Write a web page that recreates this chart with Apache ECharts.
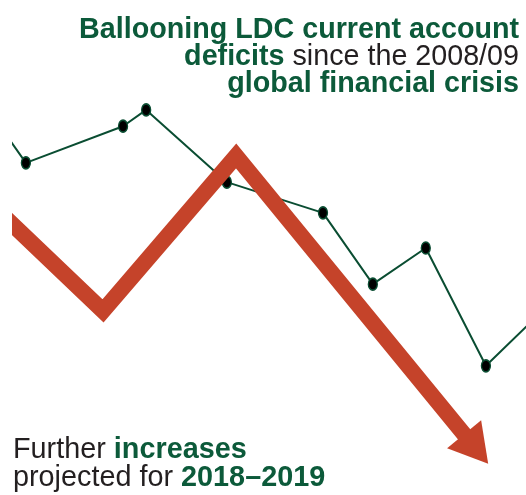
<!DOCTYPE html>
<html>
<head>
<meta charset="utf-8">
<script src="https://cdn.jsdelivr.net/npm/echarts@6/dist/echarts.min.js"></script>
<style>html,body{margin:0;padding:0;background:#fff}#c{width:526px;height:495px}</style>
</head>
<body>
<div id="c"></div>
<script>
// Current account deficit index (arbitrary units), position along time scale
const deficitX = [-2.3, 2.7, 21.6, 26.1, 41.8, 60.5, 70.2, 80.5, 92.2, 102.7];
const deficitY = [74.5, 67.1, 74.5, 77.8, 63.2, 57.0, 42.6, 49.9, 26.1, 36.7];
// Trend arrow (stylised)
const arrowX = [-4.3, 17.7, 43.6, 90.3];
const arrowY = [59.0, 37.2, 68.5, 9.3];
const titleLine1 = 'Ballooning LDC current account';
const titleLine2Bold = 'deficits';
const titleLine2 = ' since the 2008/09';
const titleLine3 = 'global financial crisis';
const footLines = ['Further ', 'increases', 'projected for ', '2018–2019'];

const GREEN = '#0c5a3a';
const LINE = '#0a4d32';
const RED = '#c5432a';
const DARK = '#231f20';
const FONT = '"Liberation Sans", Arial, Helvetica, sans-serif';

const greenData = deficitX.map((x, i) => {
  const it = { value: [x, deficitY[i]] };
  if (i === 0 || i === deficitX.length - 1) it.symbol = 'none';
  return it;
});
const redData = arrowX.map((x, i) => {
  const it = { value: [x, arrowY[i]] };
  if (i < arrowX.length - 1) it.symbol = 'none';
  return it;
});

const richT = (size, lh) => ({
  b: { fontFamily: FONT, fontSize: size, fontWeight: 'bold', fill: GREEN, color: GREEN, lineHeight: lh },
  n: { fontFamily: FONT, fontSize: size, fontWeight: 'normal', fill: DARK, color: DARK, lineHeight: lh }
});
const titleText = (txt, top) => ({
  type: 'text', right: 7, top: top, z: 10,
  style: { text: txt, align: 'right', font: '28.7px ' + FONT, rich: richT(28.7, 28) }
});
const footText = (txt, top) => ({
  type: 'text', left: 13, top: top, z: 10,
  style: { text: txt, align: 'left', font: '28.8px ' + FONT, rich: richT(28.8, 28) }
});

const chart = echarts.init(document.getElementById('c'), null, { renderer: 'canvas' });
chart.setOption({
  animation: false,
  grid: { left: 12, right: 0, top: 0, bottom: 0 },
  xAxis: { type: 'value', min: 0, max: 100, show: false },
  yAxis: { type: 'value', min: 0, max: 100, show: false },
  series: [
    {
      type: 'line', z: 2, clip: true, data: greenData,
      symbol: 'circle', symbolSize: [9, 12], showSymbol: true,
      lineStyle: { color: LINE, width: 2 },
      itemStyle: { color: '#000', borderColor: LINE, borderWidth: 1.5 },
      emphasis: { disabled: true }, silent: true
    },
    {
      type: 'line', z: 3, clip: true, data: redData,
      symbol: 'triangle', symbolSize: [44, 38], symbolRotate: -140.7, showSymbol: true,
      lineStyle: { color: RED, width: 16, join: 'miter', miterLimit: 10, cap: 'butt' },
      itemStyle: { color: RED },
      emphasis: { disabled: true }, silent: true
    }
  ],
  graphic: [
    { type: 'rect', left: 0, top: 0, z: 5, shape: { width: 12, height: 420 }, style: { fill: '#fff' }, silent: true },
    titleText('{b|' + titleLine1 + '}', 16),
    titleText('{b|' + titleLine2Bold + '}{n|' + titleLine2 + '}', 43),
    titleText('{b|' + titleLine3 + '}', 70),
    footText('{n|' + footLines[0] + '}{b|' + footLines[1] + '}', 436),
    footText('{n|' + footLines[2] + '}{b|' + footLines[3] + '}', 464)
  ]
});
</script>
</body>
</html>
